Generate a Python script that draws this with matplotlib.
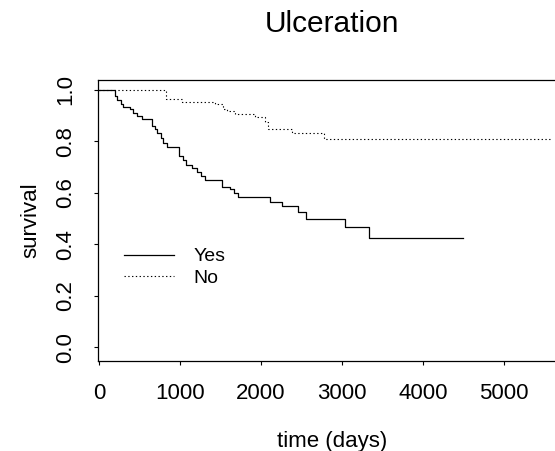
import matplotlib.pyplot as plt

plt.rcParams["font.family"] = ["Liberation Sans", "DejaVu Sans"]

# Kaplan-Meier steps (time in days, survival after the step)
yes_time = [0, 198, 218, 270, 300, 383, 416, 465, 527, 650, 690, 712, 761, 794, 843,
            991, 1040, 1074, 1144, 1206, 1256, 1309, 1523, 1617, 1667, 1720, 2110,
            2255, 2461, 2556, 3037, 3337, 4490]
yes_surv = [1.0, 0.975, 0.961, 0.945, 0.933, 0.925, 0.912, 0.899, 0.886, 0.860, 0.847,
            0.834, 0.812, 0.793, 0.777, 0.744, 0.727, 0.709, 0.696, 0.683, 0.666,
            0.650, 0.624, 0.614, 0.599, 0.586, 0.566, 0.549, 0.525, 0.498, 0.467,
            0.427, 0.427]

no_time = [0, 830, 1030, 1430, 1535, 1576, 1679, 1926, 2049, 2090, 2379, 2775, 5565]
no_surv = [1.0, 0.964, 0.955, 0.947, 0.927, 0.917, 0.908, 0.895, 0.876, 0.850, 0.834,
           0.811, 0.811]

x_ticks = [0, 1000, 2000, 3000, 4000, 5000]
y_ticks = [0.0, 0.2, 0.4, 0.6, 0.8, 1.0]

fig = plt.figure(figsize=(5.55, 4.51), dpi=100)
ax = fig.add_axes([98 / 555, 1 - 360.5 / 451, (566 - 98) / 555, (360.5 - 80) / 451])

ax.step(yes_time, yes_surv, where="post", color="black", lw=0.9, label="Yes")
ax.step(no_time, no_surv, where="post", color="black", lw=0.8,
        linestyle=(0, (1.2, 2.2)), label="No")

ax.set_xlim(-12, 5765)
ax.set_ylim(-0.0505, 1.0388)
ax.set_xticks(x_ticks)
ax.set_xticklabels([str(v) for v in x_ticks])
ax.set_yticks(y_ticks)
ax.set_yticklabels([f"{v:.1f}" for v in y_ticks], rotation=90, va="center")
ax.tick_params(axis="both", length=3, width=0.8, labelsize=16)
ax.tick_params(axis="x", pad=13)
ax.tick_params(axis="y", pad=13)
for sp in ax.spines.values():
    sp.set_linewidth(0.9)

ax.set_xlabel("time (days)", fontsize=16, labelpad=20)
ax.set_ylabel("survival", fontsize=16, labelpad=10)
fig.text(332 / 555, 1 - 24 / 451, "Ulceration", fontsize=21.5, ha="center", va="center")

ax.legend(loc="upper left", bbox_to_anchor=(18 / 468, 1 - (240 - 80) / 280.5),
          frameon=False, fontsize=14, handlelength=2.6, handletextpad=1.0,
          labelspacing=0.2, borderaxespad=0)

fig.savefig("out.png", dpi=100)
